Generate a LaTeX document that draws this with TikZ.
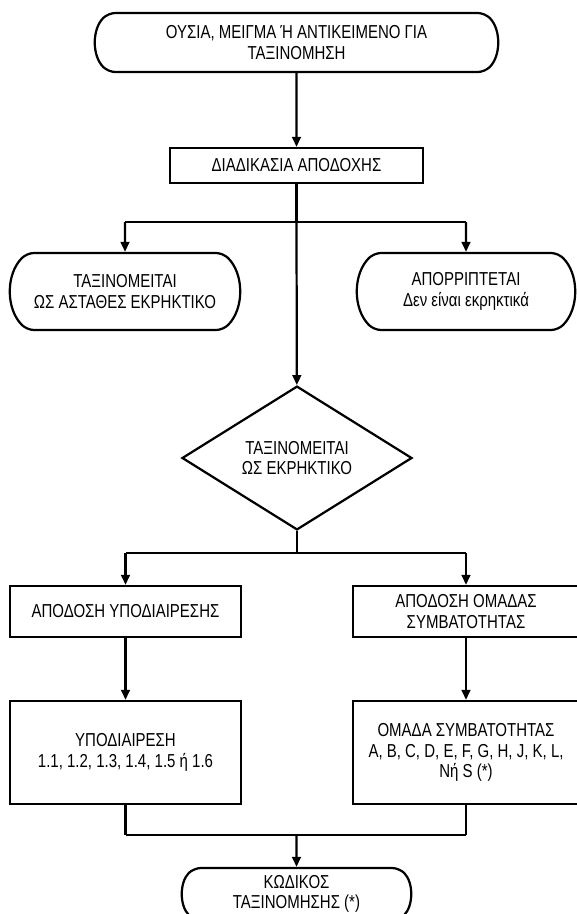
\documentclass[tikz,border=0pt]{standalone}
\usepackage{fontspec}
\setmainfont{Liberation Sans}[FakeStretch=0.8]
\usetikzlibrary{arrows.meta,shapes.geometric,shapes.misc}

\begin{document}
\begin{tikzpicture}
[x=0.03cm,y=-0.03cm,
  font=\fontsize{16}{17.5}\selectfont,
  boxDecorate/.style={shape=rectangle,draw,line width=1.9pt,inner sep=0pt,align=center},
  termDecorate/.style={shape=rounded rectangle,rounded rectangle arc length=90,rounded corners=6pt,draw,line width=1.9pt,inner sep=0pt,align=center},
  decisionDecorate/.style={shape=diamond,draw,line width=1.9pt,inner sep=0pt,align=center},
  lineDecorate/.style={-,line width=1.9pt},
  arrowDecorate/.style={-{Triangle[length=0.3cm,width=0.26cm]},line width=1.9pt}]
\useasboundingbox (0,0) rectangle (576,914);
%% nodes
\node (start) at (296.5,42.5) [termDecorate,minimum width=12.03cm,minimum height=1.77cm]
  {ΟΥΣΙΑ, ΜΕΙΓΜΑ Ή ΑΝΤΙΚΕΙΜΕΝΟ ΓΙΑ\\ΤΑΞΙΝΟΜΗΣΗ};
\node (accept) at (296.5,165.5) [boxDecorate,minimum width=7.59cm,minimum height=1.05cm]
  {ΔΙΑΔΙΚΑΣΙΑ ΑΠΟΔΟΧΗΣ};
\node (unstable) at (125,291.5) [termDecorate,minimum width=6.84cm,minimum height=2.31cm]
  {ΤΑΞΙΝΟΜΕΙΤΑΙ\\ΩΣ ΑΣΤΑΘΕΣ ΕΚΡΗΚΤΙΚΟ};
\node (reject) at (466,291.5) [termDecorate,minimum width=6.48cm,minimum height=2.31cm]
  {ΑΠΟΡΡΙΠΤΕΤΑΙ\\Δεν είναι εκρηκτικά};
\node (explosive) at (297,458) [decisionDecorate,minimum width=6.9cm,minimum height=3.78cm]
  {ΤΑΞΙΝΟΜΕΙΤΑΙ\\ΩΣ ΕΚΡΗΚΤΙΚΟ};
\node (assignsub) at (125.5,611.5) [boxDecorate,minimum width=6.93cm,minimum height=1.53cm]
  {ΑΠΟΔΟΣΗ ΥΠΟΔΙΑΙΡΕΣΗΣ};
\node (assigngroup) at (466,611.5) [boxDecorate,minimum width=6.78cm,minimum height=1.53cm]
  {ΑΠΟΔΟΣΗ ΟΜΑΔΑΣ\\ΣΥΜΒΑΤΟΤΗΤΑΣ};
\node (subdiv) at (125.5,752.5) [boxDecorate,minimum width=6.93cm,minimum height=3.09cm]
  {ΥΠΟΔΙΑΙΡΕΣΗ\\1.1, 1.2, 1.3, 1.4, 1.5 ή 1.6};
\node (group) at (466,752.5) [boxDecorate,minimum width=6.78cm,minimum height=3.09cm]
  {ΟΜΑΔΑ ΣΥΜΒΑΤΟΤΗΤΑΣ\\A, B, C, D, E, F, G, H, J, K, L,\\Nή S (*)};
\node (code) at (296.5,894) [termDecorate,minimum width=6.81cm,minimum height=1.56cm]
  {ΚΩΔΙΚΟΣ\\ΤΑΞΙΝΟΜΗΣΗΣ (*)};
%% branch points
\foreach \pointname/\x/\y in {b1/296.5/222, b1l/125/222, b1r/466/222,
  b2/297/553, b2l/125.5/553, b2r/466/553,
  b3/296.5/835, b3l/125.5/835, b3r/466/835}
{
  \coordinate (\pointname) at (\x,\y);
}
%% plain lines
\path
\foreach \startnode/\endnode in {accept/b1, b1l/b1r, explosive/b2, b2l/b2r,
  subdiv/b3l, group/b3r, b3l/b3r}
{
  (\startnode) edge[lineDecorate] (\endnode)
};
%% arrows
\path
\foreach \startnode/\endnode in {start/accept, b1/explosive, b1l/unstable, b1r/reject,
  b2l/assignsub, b2r/assigngroup, assignsub/subdiv, assigngroup/group, b3/code}
{
  (\startnode) edge[arrowDecorate] (\endnode)
};
\end{tikzpicture}
\end{document}
